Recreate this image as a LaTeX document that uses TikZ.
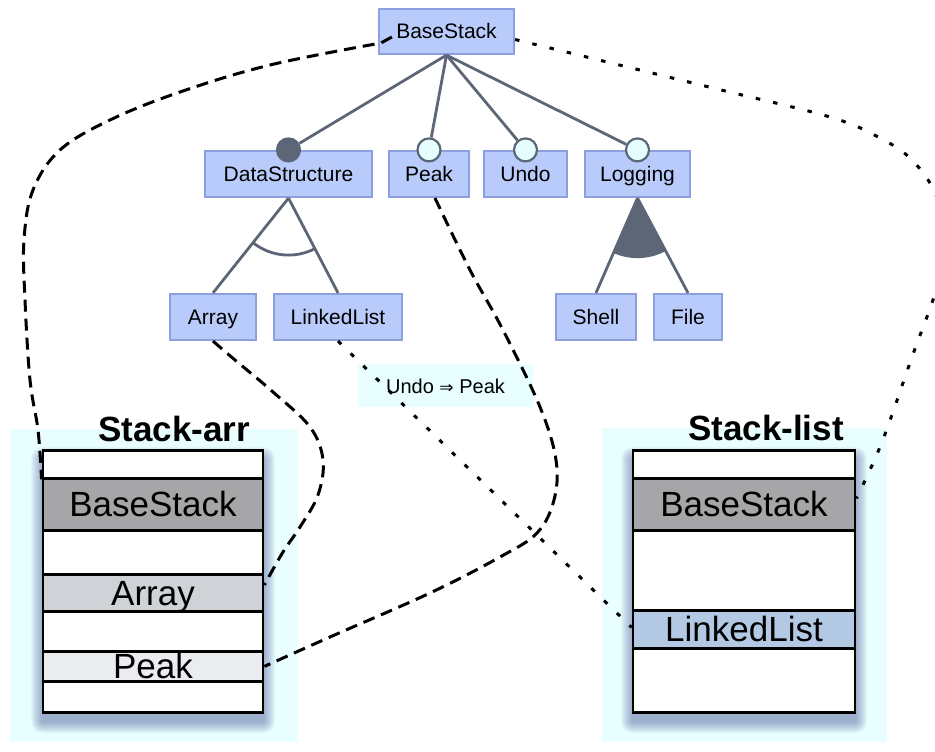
\documentclass[tikz,border=0pt]{standalone}
\usepackage{fontspec}
\setmainfont{Liberation Sans}
\newfontfamily\dejavu{DejaVu Sans}
\definecolor{treefill}{HTML}{B9CBFA}
\definecolor{treeborder}{HTML}{8E9FE0}
\definecolor{conn}{HTML}{5D6676}
\definecolor{optfill}{HTML}{E6FFFE}
\definecolor{cyanbg}{HTML}{E8FEFF}
\definecolor{rowdark}{HTML}{A6A6A8}
\definecolor{rowmid}{HTML}{CFD2D6}
\definecolor{rowlight}{HTML}{EBECF0}
\definecolor{rowblue}{HTML}{B3C9E3}
\definecolor{shadowc}{HTML}{3C468C}
\tikzset{
 feat/.style={draw=treeborder, fill=treefill, line width=2.2pt, inner sep=0pt, minimum height=46pt, text height=15pt, text depth=0pt, font=\fontsize{21}{25}\selectfont},
 treeline/.style={draw=conn, line width=2.8pt},
 mandc/.style={circle, draw=conn, fill=conn, line width=2.2pt, minimum size=23pt, inner sep=0pt},
 optc/.style={circle, draw=conn, fill=optfill, line width=2.2pt, minimum size=23pt, inner sep=0pt},
 stackrow/.style={draw=black, line width=2.8pt, inner sep=0pt, anchor=north, text height=25pt, text depth=0pt, font=\fontsize{35}{40}\selectfont},
 stacktitle/.style={font=\fontsize{35}{40}\selectfont\bfseries, anchor=base, inner sep=0pt},
 dashline/.style={draw=black, line width=3pt, dash pattern=on 12pt off 7pt},
 dotline/.style={draw=black, line width=3pt, dash pattern=on 4.5pt off 13.2pt},
 bgpanel/.style={fill=cyanbg},
}
\begin{document}
\begin{tikzpicture}[x=1pt,y=-1pt]
\useasboundingbox (0,0) rectangle (935,752);
% background panels
\fill[bgpanel] (10,429) rectangle (298,742);
\fill[bgpanel] (602,428) rectangle (887,742);
% shadows
\foreach \i in {1,...,12} {
  \fill[shadowc, opacity=0.045, rounded corners=\i pt] (43-\i,449-\i+10) rectangle (263+\i,711+\i+10);
  \fill[shadowc, opacity=0.045, rounded corners=\i pt] (633-\i,449-\i+10) rectangle (855+\i,711+\i+10);
}
% titles
\node[stacktitle] (tarr) at (174,441) {Stack-arr};
\node[stacktitle] (tlist) at (766,440) {Stack-list};
% Stack-arr rows
\node[stackrow, fill=white, minimum width=220pt, minimum height=28pt] (arr0) at (153,449) {};
\node[stackrow, fill=rowdark, minimum width=220pt, minimum height=52pt] (arrBase) at (153,477) {BaseStack};
\node[stackrow, fill=white, minimum width=220pt, minimum height=44pt] (arr2) at (153,529) {};
\node[stackrow, fill=rowmid, minimum width=220pt, minimum height=37pt] (arrArray) at (153,573) {Array};
\node[stackrow, fill=white, minimum width=220pt, minimum height=40pt] (arr4) at (153,610) {};
\node[stackrow, fill=rowlight, minimum width=220pt, minimum height=30pt] (arrPeak) at (153,650) {Peak};
\node[stackrow, fill=white, minimum width=220pt, minimum height=31pt] (arr6) at (153,680) {};
% Stack-list rows
\node[stackrow, fill=white, minimum width=222pt, minimum height=28pt] (list0) at (744,449) {};
\node[stackrow, fill=rowdark, minimum width=222pt, minimum height=52pt] (listBase) at (744,477) {BaseStack};
\node[stackrow, fill=white, minimum width=222pt, minimum height=80pt] (list2) at (744,529) {};
\node[stackrow, fill=rowblue, minimum width=222pt, minimum height=38pt] (listLinked) at (744,609) {LinkedList};
\node[stackrow, fill=white, minimum width=222pt, minimum height=64pt] (list4) at (744,647) {};
% feature tree
\node[feat, minimum width=135pt, minimum height=45pt] (BS) at (446.5,31.5) {BaseStack};
\node[feat, minimum width=167pt] (DS) at (288.5,174) {DataStructure};
\node[feat, minimum width=80pt] (Peak) at (429,174) {Peak};
\node[feat, minimum width=83pt] (Undo) at (525.5,174) {Undo};
\node[feat, minimum width=105pt] (Log) at (637.5,174) {Logging};
\node[feat, minimum width=86pt, minimum height=46pt] (Arr) at (213,317) {Array};
\node[feat, minimum width=128pt, minimum height=46pt] (LL) at (338,317) {LinkedList};
\node[feat, minimum width=80pt, minimum height=46pt] (Shell) at (596,317) {Shell};
\node[feat, minimum width=68pt, minimum height=46pt] (File) at (688,317) {File};
% group arcs
\begin{scope}
\clip (DS.south) -- (Arr.north) -- (LL.north) -- cycle;
\draw[conn, line width=2.8pt] (DS.south) circle[radius=57pt];
\end{scope}
\begin{scope}
\clip (Log.south) -- (Shell.north) -- (File.north) -- cycle;
\fill[conn] (Log.south) circle[radius=60pt];
\end{scope}
\draw[treeline] (DS.south) -- (Arr.north);
\draw[treeline] (DS.south) -- (LL.north);
\draw[treeline] (Log.south) -- (Shell.north);
\draw[treeline] (Log.south) -- (File.north);
% circles
\node[mandc] (cDS) at (DS.north) {};
\node[optc] (cPeak) at (Peak.north) {};
\node[optc] (cUndo) at (Undo.north) {};
\node[optc] (cLog) at (Log.north) {};
\draw[treeline] (BS.south) -- (cDS);
\draw[treeline] (BS.south) -- (cPeak);
\draw[treeline] (BS.south) -- (cUndo);
\draw[treeline] (BS.south) -- (cLog);
% constraint label
\node[fill=cyanbg, minimum width=175pt, minimum height=43pt, inner sep=0pt, text height=15pt, text depth=0pt, font=\fontsize{20}{24}\selectfont] (cons) at (445.5,385.5) {Undo {\dejavu\fontsize{17}{20}\selectfont ⇒} Peak};
% mapping connectors
\coordinate (h1) at ([xshift=14pt,yshift=-5.5pt]BS.west);
\coordinate (h2) at ([xshift=3pt,yshift=-11.5pt]BS.west);
\coordinate (e1) at ([yshift=25pt]arrBase.west);
\draw[dashline] (h1) -- plot[smooth, tension=0.6] coordinates {(h2) (270,65) (180,92) (110,120) (60,150) (33,190) (24,240) (25,300) (30,380) (38,430) (e1)};
\coordinate (s2) at ([yshift=-8pt]BS.east);
\coordinate (e2) at ([yshift=6pt]listBase.east);
\draw[dotline] plot[smooth, tension=0.6] coordinates {(s2) (713,88) (830,117) (880,138) (912,160) (936,195) (945,240) (936,290) (912,357) (882,442) (e2)};
\coordinate (s3) at ([xshift=6pt]Peak.south);
\draw[dashline] plot[smooth, tension=0.6] coordinates {(s3) (470,270) (503,330) (540,407) (556,460) (554,500) (537,533) (500,557) (430,593) (330,637) (arrPeak.east)};
\coordinate (e4) at ([yshift=8pt]arrArray.east);
\draw[dashline] plot[smooth, tension=0.6] coordinates {(Arr.south) (235,360) (273,392) (310,427) (323,460) (318,495) (300,527) (283,552) (e4)};
\coordinate (e5) at ([yshift=2pt]listLinked.west);
\draw[dotline] (LL.south) -- (e5);
\end{tikzpicture}
\end{document}
